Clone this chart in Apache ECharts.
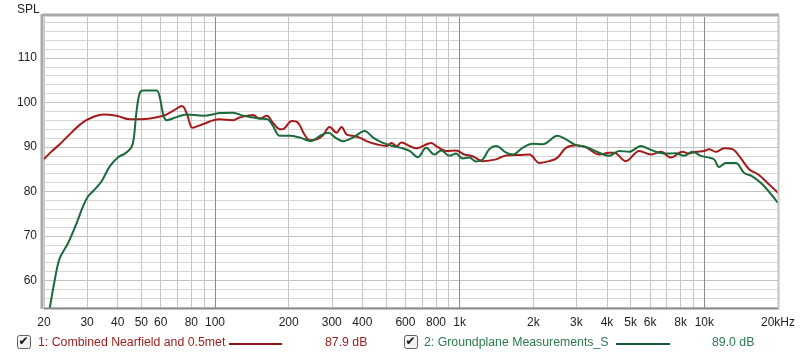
<!DOCTYPE html>
<html>
<head>
<meta charset="utf-8">
<script src="https://cdn.jsdelivr.net/npm/echarts@6/dist/echarts.min.js"></script>
<style>
html,body{margin:0;padding:0;background:#fff;}
#c{width:800px;height:360px;}
</style>
</head>
<body>
<div id="c"></div>
<script>
// ---- data ----
const redFreq = [20,21.5,23.2,24.7,26.3,27.9,29.8,32.3,34.9,39.6,44.9,54.2,61.4,67.3,73.3,76.9,81,89,104,118,126,143,152,163,172,184,189,206,218,232,244,260,275,294,314,329,345,365,390,416,457,502,526,552,578,624,664,764,801,881,967,1045,1130,1242,1409,1549,1755,1929,2116,2325,2512,2718,2987,3282,3718,4084,4279,4778,5417,6047,6641,7296,8130,8666,9231,9980,10454,11132,12052,13012,13868,15241,16720,18365,20000];
const redSpl  = [87.3,89.0,90.6,92.1,93.6,94.9,96.0,96.9,97.3,97.0,96.2,96.4,97.0,98.1,99.2,97.3,94.3,95.1,96.2,96.0,96.6,97.2,96.4,97.0,95.5,94.0,94.0,95.8,95.5,92.8,91.5,91.7,92.5,94.5,93.2,94.5,92.8,92.5,92.1,91.3,90.6,90.2,90.9,90.2,91.0,90.2,89.7,90.9,90.2,89.1,89.2,88.3,87.9,86.8,87.2,88.1,88.2,88.3,86.4,86.8,87.6,89.8,90.4,89.9,88.3,88.7,88.7,86.8,89.1,88.3,88.9,87.6,88.9,88.5,88.9,89.1,89.5,88.9,89.7,89.5,88.0,85.0,83.7,81.6,79.7];

const greenFreq = [21.0,22.2,23.2,25.1,27.2,28.9,30.3,31.8,34.4,37.2,40.2,42.8,45.6,46.6,47.8,49.3,50.9,57.7,59.5,61.4,63.4,69.6,76.4,89.3,104.5,118.4,130.9,152,164.4,172.5,184,202,222,247.7,268.5,290.8,310,333,366.6,409,442.5,485.3,531.8,583,624,674,730,789,840,908,967,1028,1096,1167,1242,1322,1409,1549,1648,1808,1986,2183,2512,2718,2987,3282,3718,4084,4488,4932,5508,5953,6536,7180,7640,8260,8937,9677,10454,10966,11485,12245,13440,14520,15703,17266,20000];
const greenSpl  = [53.0,60.5,65.0,68.4,72.9,76.7,78.9,80.1,82.3,85.7,87.7,88.5,90.0,92.1,98.1,102.2,102.7,102.7,101.1,97.3,96.0,96.7,97.3,97.0,97.6,97.7,97.0,96.4,96.2,94.7,92.5,92.5,92.1,91.3,92.5,93.2,92.1,91.3,92.1,93.6,92.1,90.9,90.2,89.7,89.1,87.7,89.8,88.3,89.2,88.0,88.5,87.4,87.6,86.7,87.2,89.5,90.2,88.7,88.3,89.8,90.7,90.6,92.5,91.7,90.4,90.0,88.7,88.0,89.1,88.9,90.2,89.5,88.7,88.5,88.6,88.0,88.9,88.0,87.6,87.2,85.5,86.4,86.4,84.2,83.4,81.6,77.4];

const xLabelValues = [20,30,40,50,60,80,100,200,300,400,600,800,1000,2000,3000,4000,5000,6000,8000,10000,20000];
const xMinorValues = [20,30,40,50,60,70,80,90,200,300,400,500,600,700,800,900,2000,3000,4000,5000,6000,7000,8000,9000,20000];
const xDecadeValues = [100,1000,10000];
const yLabelValues = [60,70,80,90,100,110];
const yMinorValues = [54,56,58,62,64,66,68,72,74,76,78,82,84,86,88,92,94,96,98,102,104,106,108,112,114,116,118];

const series1Name = '1: Combined Nearfield and 0.5met';
const series2Name = '2: Groundplane Measurements_S';
const series1Avg = '87.9 dB';
const series2Avg = '89.0 dB';
const yTitle = 'SPL';

// ---- chart ----
const RED = '#a51a1a', GREEN = '#1b6a3c';
const FONT = 'Liberation Sans';
const pairs = (xs, ys) => xs.map((x, i) => [x, ys[i]]);
const fmtX = v => {
  if (v === 20000) return '20kHz';
  if (v >= 1000) return (v / 1000) + 'k';
  return String(v);
};

const G = {left: 44, top: 17, right: 778, bottom: 308};

const chart = echarts.init(document.getElementById('c'), null, {renderer: 'canvas'});
chart.setOption({
  animation: false,
  backgroundColor: '#ffffff',
  grid: {left: G.left, top: G.top, right: 800 - G.right, bottom: 360 - G.bottom, show: false},
  xAxis: [
    {
      type: 'log', logBase: 10, min: 20, max: 20000,
      axisLine: {show: false},
      axisTick: {show: false, customValues: xMinorValues},
      axisLabel: {customValues: xLabelValues, formatter: fmtX, color: '#222', fontSize: 12, fontFamily: FONT, margin: 9, showMinLabel: true, showMaxLabel: true, hideOverlap: false},
      splitLine: {show: true, lineStyle: {color: '#c6c6c6', width: 1}}
    },
    {
      type: 'log', logBase: 10, min: 20, max: 20000, position: 'top',
      axisLine: {show: false},
      axisTick: {show: false, customValues: xDecadeValues},
      axisLabel: {show: false},
      splitLine: {show: true, lineStyle: {color: '#8a8a8a', width: 1}}
    }
  ],
  yAxis: [
    {
      type: 'value', min: 53.8, max: 119.2,
      axisLine: {show: false},
      axisTick: {show: false, customValues: yMinorValues},
      axisLabel: {show: false},
      splitLine: {show: true, lineStyle: {color: '#d6d6d6', width: 1}}
    },
    {
      type: 'value', min: 53.8, max: 119.2, position: 'left',
      axisLine: {show: false},
      axisTick: {show: false, customValues: yLabelValues},
      axisLabel: {customValues: yLabelValues, color: '#222', fontSize: 12, fontFamily: FONT, margin: 7},
      splitLine: {show: true, lineStyle: {color: '#c2c2c2', width: 1}}
    }
  ],
  series: [
    {
      name: series1Name, type: 'line', xAxisIndex: 0, yAxisIndex: 0,
      data: pairs(redFreq, redSpl), smooth: 0.35, symbol: 'none',
      lineStyle: {color: RED, width: 2}, z: 3
    },
    {
      name: series2Name, type: 'line', xAxisIndex: 0, yAxisIndex: 0,
      data: pairs(greenFreq, greenSpl), smooth: 0.35, symbol: 'none',
      lineStyle: {color: GREEN, width: 2}, z: 4
    }
  ],
  graphic: [
    // frame
    {type: 'line', shape: {x1: G.left - 1, y1: G.top - 2, x2: G.right + 1, y2: G.top - 2}, style: {stroke: '#a9a9a9', lineWidth: 3}, z: 10},
    {type: 'line', shape: {x1: G.left - 2, y1: G.top - 3, x2: G.left - 2, y2: G.bottom + 1}, style: {stroke: '#a9a9a9', lineWidth: 3}, z: 10},
    {type: 'line', shape: {x1: G.left, y1: G.bottom + 0.5, x2: G.right + 1, y2: G.bottom + 0.5}, style: {stroke: '#8c8c8c', lineWidth: 2}, z: 10},
    {type: 'line', shape: {x1: G.right + 0.5, y1: G.top - 1, x2: G.right + 0.5, y2: G.bottom + 1}, style: {stroke: '#c4c4c4', lineWidth: 2}, z: 10},
    // y title
    {type: 'text', left: 17, top: 4, style: {text: yTitle, fill: '#222', font: '12px "' + FONT + '"'}},
    // legend 1
    {type: 'rect', shape: {x: 17.5, y: 335.5, width: 13, height: 13, r: 2}, style: {fill: '#f2f2f2', stroke: '#606060', lineWidth: 1}},
    {type: 'text', x: 18.5, y: 342, style: {text: '✔', fill: '#111', font: '12px "DejaVu Sans"', verticalAlign: 'middle'}},
    {type: 'text', x: 38, y: 343, style: {text: series1Name, fill: '#9b1b1b', font: '12.3px "' + FONT + '"', verticalAlign: 'middle'}},
    {type: 'line', shape: {x1: 229, y1: 344, x2: 282, y2: 344}, style: {stroke: '#8e1616', lineWidth: 2}},
    {type: 'text', x: 325, y: 343, style: {text: series1Avg, fill: '#9b1b1b', font: '12.3px "' + FONT + '"', verticalAlign: 'middle'}},
    // legend 2
    {type: 'rect', shape: {x: 404.5, y: 335.5, width: 13, height: 13, r: 2}, style: {fill: '#f2f2f2', stroke: '#606060', lineWidth: 1}},
    {type: 'text', x: 405.5, y: 342, style: {text: '✔', fill: '#111', font: '12px "DejaVu Sans"', verticalAlign: 'middle'}},
    {type: 'text', x: 424, y: 343, style: {text: series2Name, fill: '#2b7a4b', font: '12.3px "' + FONT + '"', verticalAlign: 'middle'}},
    {type: 'line', shape: {x1: 616, y1: 344, x2: 670, y2: 344}, style: {stroke: '#145a32', lineWidth: 2}},
    {type: 'text', x: 712, y: 343, style: {text: series2Avg, fill: '#2b7a4b', font: '12.3px "' + FONT + '"', verticalAlign: 'middle'}}
  ]
});
</script>
</body>
</html>
